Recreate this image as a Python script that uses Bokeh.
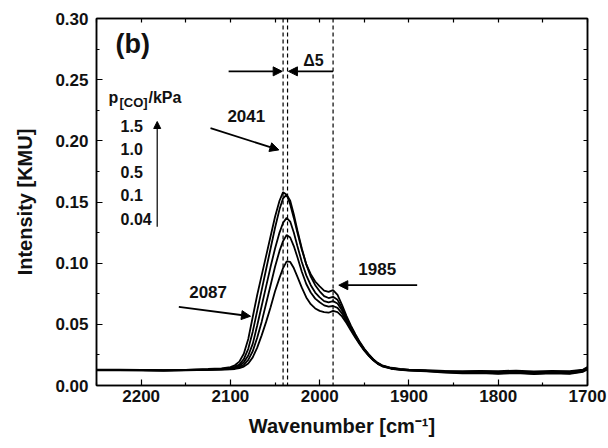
from bokeh.plotting import figure
from bokeh.models import (Range1d, LinearAxis, FixedTicker,
                          NumeralTickFormatter, Span, Arrow, NormalHead)
from bokeh.core.properties import value
from bokeh.embed import file_html
from bokeh.resources import INLINE

# ---------------- data ----------------
wavenumber = [2250, 2225, 2200, 2175, 2150, 2125, 2110, 2100, 2095, 2090, 2085, 2080,
              2075, 2070, 2065, 2060, 2055, 2050, 2045, 2041, 2037, 2033, 2029, 2025,
              2020, 2015, 2010, 2005, 2000, 1995, 1990, 1985, 1980, 1975, 1970, 1965,
              1960, 1955, 1950, 1945, 1940, 1935, 1930, 1920, 1910, 1900, 1880, 1860,
              1840, 1820, 1800, 1780, 1760, 1740, 1720, 1705, 1700]

int_1_5 = [0.0130, 0.0130, 0.0128, 0.0125, 0.0128, 0.0135, 0.0140, 0.0150, 0.0165, 0.0195,
           0.0260, 0.0380, 0.0560, 0.0740, 0.0900, 0.1060, 0.1220, 0.1380, 0.1510, 0.1580,
           0.1560, 0.1480, 0.1370, 0.1250, 0.1110, 0.0990, 0.0910, 0.0850, 0.0810, 0.0775,
           0.0765, 0.0780, 0.0740, 0.0660, 0.0570, 0.0490, 0.0420, 0.0355, 0.0300, 0.0255,
           0.0215, 0.0185, 0.0165, 0.0145, 0.0135, 0.0130, 0.0125, 0.0120, 0.0118, 0.0120,
           0.0118, 0.0122, 0.0115, 0.0120, 0.0118, 0.0130, 0.0150]

int_1_0 = [0.0128, 0.0128, 0.0126, 0.0124, 0.0127, 0.0132, 0.0136, 0.0142, 0.0152, 0.0172,
           0.0215, 0.0300, 0.0440, 0.0610, 0.0780, 0.0950, 0.1120, 0.1290, 0.1440, 0.1530,
           0.1560, 0.1510, 0.1400, 0.1270, 0.1120, 0.0990, 0.0890, 0.0820, 0.0770, 0.0730,
           0.0715, 0.0725, 0.0700, 0.0635, 0.0555, 0.0480, 0.0412, 0.0350, 0.0296, 0.0252,
           0.0213, 0.0183, 0.0163, 0.0143, 0.0133, 0.0128, 0.0122, 0.0118, 0.0112, 0.0115,
           0.0110, 0.0116, 0.0108, 0.0114, 0.0110, 0.0125, 0.0145]

int_0_5 = [0.0126, 0.0127, 0.0125, 0.0123, 0.0126, 0.0130, 0.0133, 0.0138, 0.0145, 0.0160,
           0.0190, 0.0245, 0.0340, 0.0490, 0.0650, 0.0810, 0.0970, 0.1120, 0.1250, 0.1330,
           0.1370, 0.1340, 0.1250, 0.1140, 0.1010, 0.0900, 0.0820, 0.0760, 0.0720, 0.0690,
           0.0680, 0.0690, 0.0670, 0.0615, 0.0540, 0.0470, 0.0405, 0.0345, 0.0292, 0.0248,
           0.0210, 0.0181, 0.0161, 0.0141, 0.0131, 0.0126, 0.0120, 0.0114, 0.0108, 0.0110,
           0.0104, 0.0110, 0.0102, 0.0108, 0.0104, 0.0120, 0.0140]

int_0_1 = [0.0125, 0.0126, 0.0124, 0.0122, 0.0125, 0.0128, 0.0131, 0.0135, 0.0140, 0.0150,
           0.0170, 0.0210, 0.0280, 0.0390, 0.0520, 0.0670, 0.0820, 0.0970, 0.1100, 0.1180,
           0.1230, 0.1210, 0.1140, 0.1050, 0.0930, 0.0830, 0.0760, 0.0710, 0.0680, 0.0655,
           0.0645, 0.0650, 0.0635, 0.0590, 0.0525, 0.0460, 0.0398, 0.0340, 0.0288, 0.0245,
           0.0208, 0.0179, 0.0159, 0.0139, 0.0129, 0.0124, 0.0118, 0.0110, 0.0104, 0.0106,
           0.0100, 0.0106, 0.0098, 0.0104, 0.0100, 0.0116, 0.0136]

int_0_04 = [0.0124, 0.0125, 0.0123, 0.0121, 0.0124, 0.0127, 0.0129, 0.0132, 0.0135, 0.0142,
            0.0155, 0.0180, 0.0230, 0.0310, 0.0410, 0.0520, 0.0640, 0.0770, 0.0880, 0.0960,
            0.1015, 0.1010, 0.0960, 0.0890, 0.0800, 0.0720, 0.0665, 0.0630, 0.0610, 0.0600,
            0.0595, 0.0610, 0.0600, 0.0565, 0.0510, 0.0450, 0.0390, 0.0335, 0.0285, 0.0242,
            0.0206, 0.0177, 0.0157, 0.0137, 0.0127, 0.0122, 0.0116, 0.0106, 0.0100, 0.0102,
            0.0096, 0.0102, 0.0094, 0.0100, 0.0096, 0.0112, 0.0132]

series = [int_1_5, int_1_0, int_0_5, int_0_1, int_0_04]
pressures = ["1.5", "1.0", "0.5", "0.1", "0.04"]
band_lines = [2041, 2036, 1985]

x_major = [2200, 2100, 2000, 1900, 1800, 1700]
x_minor = [2250, 2150, 2050, 1950, 1850, 1750]
y_major = [0.0, 0.05, 0.10, 0.15, 0.20, 0.25, 0.30]
y_minor = [0.025, 0.075, 0.125, 0.175, 0.225, 0.275]

FONT = value("Liberation Sans")

# ---------------- figure ----------------
p = figure(width=608, height=448, output_backend="svg", toolbar_location=None,
           x_range=Range1d(2250, 1700), y_range=Range1d(0, 0.3),
           min_border_left=96, min_border_right=21, min_border_top=18,
           min_border_bottom=63)
p.xgrid.visible = False
p.ygrid.visible = False
p.outline_line_color = "black"
p.outline_line_width = 1.5
p.background_fill_color = "white"
p.border_fill_color = "white"

def style_axis(ax):
    ax.axis_line_color = "black"
    ax.axis_line_width = 1.5
    ax.major_tick_in = 6
    ax.major_tick_out = 0
    ax.minor_tick_in = 3
    ax.minor_tick_out = 0
    ax.major_tick_line_color = "black"
    ax.minor_tick_line_color = "black"
    ax.major_tick_line_width = 1.2
    ax.minor_tick_line_width = 1.2
    ax.major_label_text_font = "Liberation Sans"
    ax.major_label_text_font_style = "bold"
    ax.major_label_text_font_size = "17px"
    ax.major_label_text_color = "#111111"
    ax.axis_label_text_font = "Liberation Sans"
    ax.axis_label_text_font_style = "bold"
    ax.axis_label_text_font_size = "20px"
    ax.axis_label_text_color = "#111111"

xa = p.xaxis[0]
xa.ticker = FixedTicker(ticks=x_major, minor_ticks=x_minor)
xa.axis_label = "Wavenumber [cm⁻¹]"
style_axis(xa)
xa.major_label_standoff = 4
xa.axis_label_standoff = 10

ya = p.yaxis[0]
ya.ticker = FixedTicker(ticks=y_major, minor_ticks=y_minor)
ya.formatter = NumeralTickFormatter(format="0.00")
ya.axis_label = "Intensity [KMU]"
style_axis(ya)
ya.major_label_standoff = 8
ya.axis_label_standoff = 16

# mirrored tick marks (no labels) on top and right
def mirror_axis(ticks):
    ax = LinearAxis(ticker=FixedTicker(ticks=[], minor_ticks=ticks))
    ax.axis_line_color = "black"
    ax.axis_line_width = 1.5
    ax.minor_tick_in = 4
    ax.minor_tick_out = 0
    ax.minor_tick_line_color = "black"
    ax.minor_tick_line_width = 1.2
    ax.major_label_standoff = 0
    return ax

p.add_layout(mirror_axis(x_major + x_minor), "above")
p.add_layout(mirror_axis(y_major + y_minor), "right")

# ---------------- spectra ----------------
for s in series:
    p.line(wavenumber, s, line_color="black", line_width=1.8)

# dashed band markers
for b in band_lines:
    p.add_layout(Span(location=b, dimension="height", line_color="black",
                      line_width=1.2, line_dash="4 3"))

# ---------------- annotations ----------------
def arrow(x0, y0, x1, y1, w=1.8, size=9):
    p.add_layout(Arrow(x_start=x0, y_start=y0, x_end=x1, y_end=y1,
                       line_color="black", line_width=w,
                       end=NormalHead(size=size, fill_color="black",
                                      line_color="black", line_width=1)))

def label(x, y, t, size="17px", align="center", baseline="middle", xo=0, yo=0):
    p.text(x=[x], y=[y], text=[t], text_font=FONT, text_font_style="bold",
           text_font_size=value(size), text_align=align, text_baseline=baseline,
           text_color="#111111", x_offset=xo, y_offset=yo)

label(2228.7, 0.2795, "(b)", size="27px", align="left")

# Δ5 arrows
arrow(2102, 0.2568, 2042, 0.2568)
arrow(1985, 0.2568, 2035, 0.2568)
label(2006.9, 0.2656, "Δ5", size="16px")

# pressure legend
label(2236.6, 0.2358, "p", size="16px", align="left", baseline="alphabetic")
label(2236.6, 0.2358, "[CO]", size="13px", align="left", baseline="alphabetic", xo=11, yo=5)
label(2236.6, 0.2358, "/kPa", size="16px", align="left", baseline="alphabetic", xo=40)
legend_y = [0.2123, 0.1934, 0.1742, 0.1557, 0.1363]
for t, yy in zip(pressures, legend_y):
    label(2223.0, yy, t, size="16px", align="left")
arrow(2182, 0.1298, 2182, 0.2158, w=1.2, size=7)

# band labels
label(2082.2, 0.2201, "2041")
arrow(2122.3, 0.2104, 2045.7, 0.1926)
label(2125.0, 0.0765, "2087")
arrow(2157.8, 0.0642, 2077.5, 0.0566)
label(1935.5, 0.0956, "1985")
arrow(1890.8, 0.0820, 1978.6, 0.0820)

open("out.html", "w").write(file_html(p, INLINE))
